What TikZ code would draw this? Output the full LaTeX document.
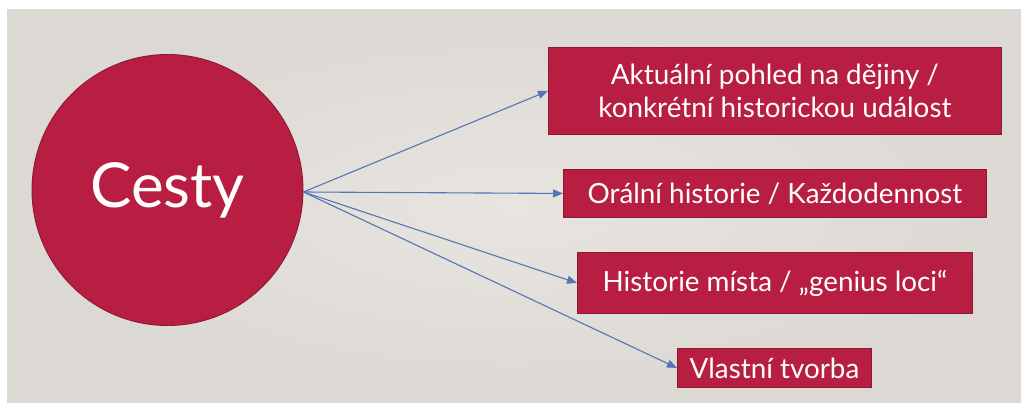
\documentclass[tikz,border=0pt]{standalone}
\usepackage{fontspec}
\setmainfont{Lato}
\usetikzlibrary{arrows.meta}
\definecolor{bgA}{HTML}{E8E5E1}
\definecolor{bgB}{HTML}{DCD8D3}
\definecolor{boxfill}{HTML}{B71E41}
\definecolor{boxline}{HTML}{8E1833}
\definecolor{arrowc}{HTML}{5576B4}
\tikzset{
  box/.style={draw=boxline, line width=0.9pt, fill=boxfill, text=white, inner sep=0pt, anchor=north west, font=\fontsize{27.8}{33}\selectfont, align=center},
  conn/.style={draw=arrowc, line width=1.1pt, -{Triangle[length=10pt,width=8pt]}}
}
\begin{document}
\begin{tikzpicture}[x=1pt,y=-1pt]
\useasboundingbox (0,0) rectangle (1024,403);
\fill[white] (0,0) rectangle (1024,403);
\shade[inner color=bgA, outer color=bgB] (7,10) rectangle (1021,403);
\node[circle, draw=boxline, line width=0.9pt, fill=boxfill, minimum size=271pt, inner sep=0pt, text=white, font=\fontsize{62}{70}\selectfont] (c) at (167.5,190) {Cesty};
\node[box, minimum width=453pt, minimum height=87pt] (b1) at (548,47) {Aktuální pohled na dějiny /\\konkrétní historickou událost};
\node[box, minimum width=423pt, minimum height=48pt] (b2) at (563,169) {Orální historie / Každodennost};
\node[box, minimum width=395pt, minimum height=61pt] (b3) at (577,252) {Historie místa / „genius loci“};
\node[box, minimum width=194pt, minimum height=39pt] (b4) at (677,348) {Vlastní tvorba};
\draw[conn] ([yshift=-2pt]c.east) -- (b1.west);
\draw[conn] ([yshift=-2pt]c.east) -- (b2.west);
\draw[conn] ([yshift=-2pt]c.east) -- (b3.west);
\draw[conn] ([yshift=-2pt]c.east) -- (b4.west);
\end{tikzpicture}
\end{document}
